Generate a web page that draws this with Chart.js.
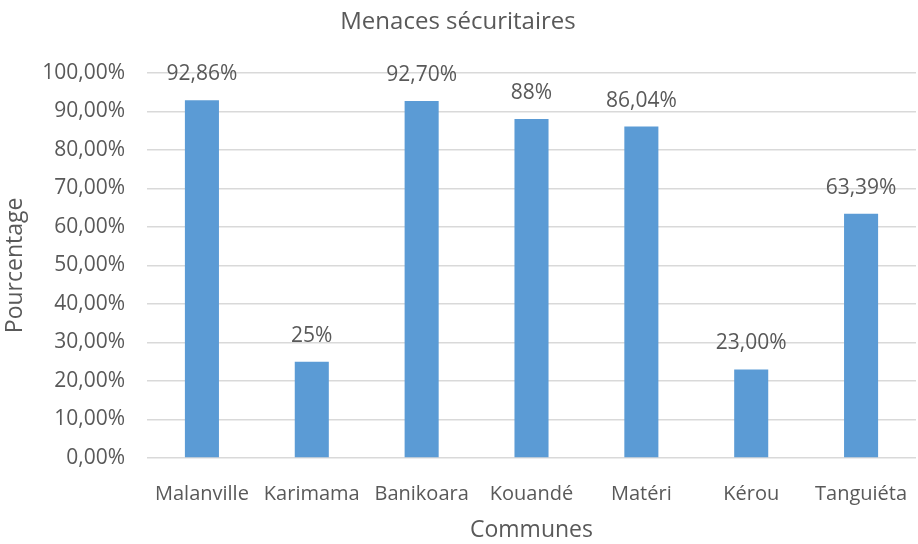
<!DOCTYPE html>
<html>
<head>
<meta charset="utf-8">
<script src="https://cdn.jsdelivr.net/npm/chart.js@4"></script>
<style>
  html, body { margin: 0; padding: 0; background: #fff; }
  #wrap { width: 918px; height: 544px; }
</style>
</head>
<body>
<div id="wrap"><canvas id="chart" width="918" height="544"></canvas></div>
<script>
// Données
const communes = ['Malanville', 'Karimama', 'Banikoara', 'Kouandé', 'Matéri', 'Kérou', 'Tanguiéta'];
const menaces = [92.86, 25, 92.70, 88, 86.04, 23.00, 63.39];
const etiquettes = ['92,86%', '25%', '92,70%', '88%', '86,04%', '23,00%', '63,39%'];

const gris = '#595959';
const police = '"Open Sans", "Noto Sans", sans-serif';

// Étiquettes de données au-dessus des barres
const etiquettesPlugin = {
    id: 'etiquettes',
    afterDatasetsDraw(chart) {
        const ctx = chart.ctx;
        const meta = chart.getDatasetMeta(0);
        ctx.save();
        ctx.fillStyle = gris;
        ctx.font = '21px ' + police;
        ctx.textAlign = 'center';
        ctx.textBaseline = 'middle';
        meta.data.forEach((bar, i) => {
            ctx.fillText(etiquettes[i], bar.x, bar.y - 26);
        });
        ctx.restore();
    }
};

const ctx = document.getElementById('chart').getContext('2d');
new Chart(ctx, {
    type: 'bar',
    data: {
        labels: communes,
        datasets: [{
            data: menaces,
            backgroundColor: '#5B9BD5',
            barPercentage: 0.31,
            categoryPercentage: 1.0
        }]
    },
    options: {
        responsive: false,
        animation: false,
        layout: { padding: { left: 0, right: 2, top: 0, bottom: 0 } },
        plugins: {
            legend: { display: false },
            tooltip: { enabled: false },
            title: {
                display: true,
                text: 'Menaces sécuritaires',
                color: gris,
                font: { family: police, size: 24, weight: 'normal' },
                padding: { top: 8, bottom: 36 }
            }
        },
        scales: {
            x: {
                grid: { display: false, drawTicks: true, tickLength: 24 },
                border: { display: false },
                ticks: { color: gris, font: { family: police, size: 20 }, padding: 0, maxRotation: 0, autoSkip: false },
                title: {
                    display: true,
                    text: 'Communes',
                    color: gris,
                    font: { family: police, size: 23 },
                    padding: { top: 2, bottom: 0 }
                },
                afterFit(scale) { scale.height = 86; }
            },
            y: {
                min: 0,
                max: 100,
                ticks: {
                    stepSize: 10,
                    color: gris,
                    font: { family: police, size: 21 },
                    padding: 22,
                    callback: v => v.toFixed(2).replace('.', ',') + '%'
                },
                grid: { color: '#D9D9D9', lineWidth: 1.5, drawTicks: false },
                border: { display: false },
                title: {
                    display: true,
                    text: 'Pourcentage',
                    color: gris,
                    font: { family: police, size: 23 },
                    padding: { top: 2, bottom: 2 }
                },
                afterFit(scale) { scale.width = 147; }
            }
        }
    },
    plugins: [etiquettesPlugin]
});
</script>
</body>
</html>
